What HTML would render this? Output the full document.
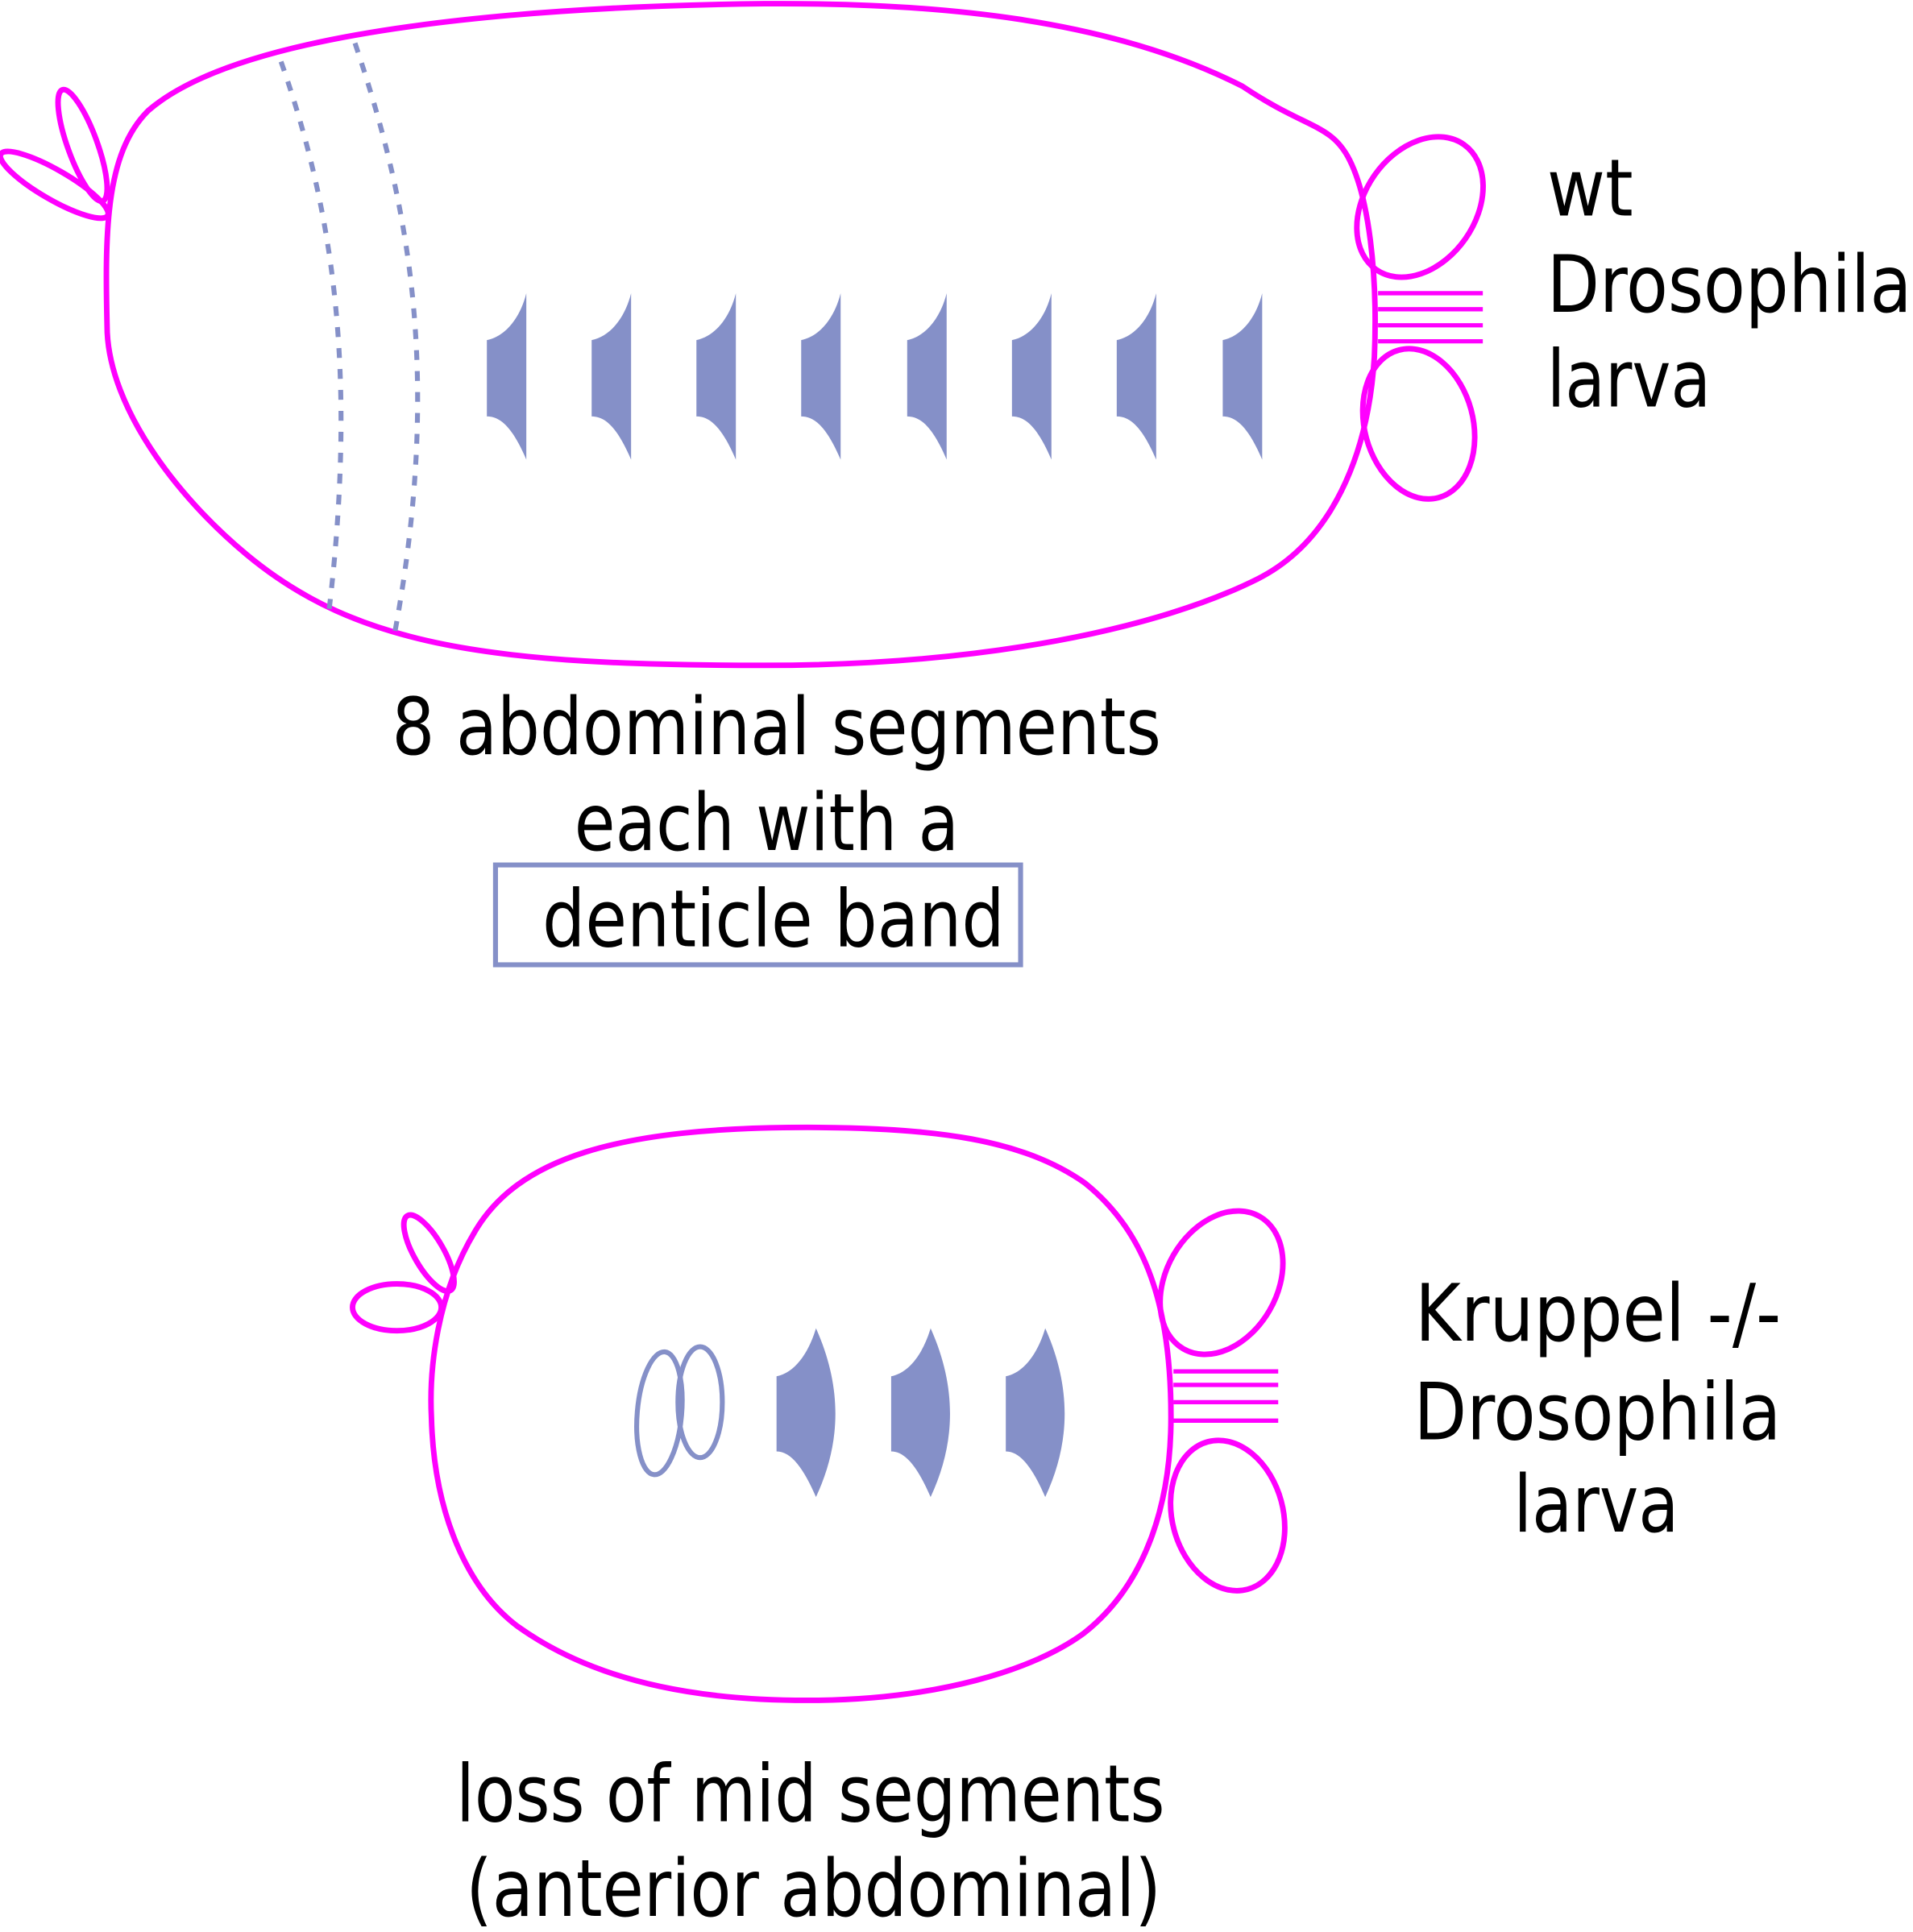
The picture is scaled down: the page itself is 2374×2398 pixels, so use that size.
<!DOCTYPE html>
<html><head><meta charset="utf-8"><style>
html,body{margin:0;padding:0;background:#fff;}
svg{display:block;}
text{font-family:"DejaVu Sans","Liberation Sans",sans-serif;font-size:64px;fill:#000;}
</style></head><body>
<svg width="2374" height="2398" viewBox="0 0 1552 1568" preserveAspectRatio="none" xmlns="http://www.w3.org/2000/svg">
<g fill="none" stroke="#ff00ff" stroke-width="4.5">
<path d="M1008 70 C900 15 760 2 620 3 C450 5 200 20 120 90 C85 125 85 190 87 270 C90 330 140 400 200 450 C290 525 400 540 620 540 C800 540 940 510 1020 470 C1080 440 1110 370 1115 290 C1118 220 1110 160 1095 130 C1080 100 1060 105 1008 70 Z"/>
<ellipse cx="67" cy="118" rx="12" ry="48" transform="rotate(-20 67 118)"/>
<ellipse cx="44" cy="150" rx="50" ry="12" transform="rotate(30 44 150)"/>
<ellipse cx="1152" cy="168" rx="45" ry="62" transform="rotate(35 1152 168)"/>
<ellipse cx="1151" cy="344" rx="44" ry="62" transform="rotate(-15 1151 344)"/>
<path d="M1118 238H1203M1118 251H1203M1118 264H1203M1118 277H1203" stroke-width="3.5"/>
<path d="M655 915 C500 915 420 940 385 1000 C355 1050 348 1110 350 1150 C352 1230 380 1290 420 1320 C490 1370 580 1380 655 1380 C760 1380 840 1355 880 1325 C930 1285 950 1220 950 1150 C950 1060 930 1000 880 960 C830 925 760 915 655 915 Z"/>
<ellipse cx="348" cy="1017" rx="12" ry="35" transform="rotate(-30 348 1017)"/>
<ellipse cx="322" cy="1061" rx="36" ry="19"/>
<ellipse cx="991" cy="1041" rx="45" ry="62" transform="rotate(30 991 1041)"/>
<ellipse cx="996" cy="1230" rx="45" ry="62" transform="rotate(-15 996 1230)"/>
<path d="M952 1113H1037M952 1124H1037M952 1138H1037M952 1153H1037" stroke-width="3.5"/>
</g>
<g fill="none" stroke="#8590c8" stroke-width="4" stroke-dasharray="8 9">
<path d="M228 50 C270 170 290 300 267 495"/>
<path d="M288 35 C330 160 360 300 320 515"/>
</g>
<g fill="#8590c8">
<path id="d" d="M427 238 L427 373 C415 345 405 338 395 338 L395 276 C410 273 422 258 427 238 Z"/>
<use href="#d" x="85"/><use href="#d" x="170"/><use href="#d" x="255"/><use href="#d" x="341"/><use href="#d" x="426"/><use href="#d" x="511"/><use href="#d" x="597"/>
<path id="e" d="M662 1078 C683 1125 683 1170 662 1215 C652 1192 642 1178 630 1178 L630 1117 C645 1114 656 1098 662 1078 Z"/>
<use href="#e" x="93"/><use href="#e" x="186"/>
</g>
<g fill="none" stroke="#8590c8" stroke-width="4">
<ellipse cx="535" cy="1147" rx="18" ry="50" transform="rotate(5 535 1147)"/>
<ellipse cx="568" cy="1138" rx="18" ry="45"/>
<rect x="402" y="702" width="426" height="81" stroke-width="4"/>
</g>
<text x="1255" y="175" textLength="70" lengthAdjust="spacingAndGlyphs">wt</text>
<text x="1255" y="253" textLength="296" lengthAdjust="spacingAndGlyphs">Drosophila</text>
<text x="1255" y="330" textLength="133" lengthAdjust="spacingAndGlyphs">larva</text>
<text x="318" y="612" textLength="624" lengthAdjust="spacingAndGlyphs">8 abdominal segments</text>
<text x="466" y="690" textLength="312" lengthAdjust="spacingAndGlyphs">each with a</text>
<text x="440" y="768" textLength="375" lengthAdjust="spacingAndGlyphs">denticle band</text>
<text x="1148" y="1088" textLength="297" lengthAdjust="spacingAndGlyphs">Kruppel -/-</text>
<text x="1147" y="1168" textLength="298" lengthAdjust="spacingAndGlyphs">Drosophila</text>
<text x="1228" y="1243" textLength="134" lengthAdjust="spacingAndGlyphs">larva</text>
<text x="370" y="1478" textLength="575" lengthAdjust="spacingAndGlyphs">loss of mid segments</text>
<text x="378" y="1555" textLength="564" lengthAdjust="spacingAndGlyphs">(anterior abdominal)</text>
</svg>
</body></html>
